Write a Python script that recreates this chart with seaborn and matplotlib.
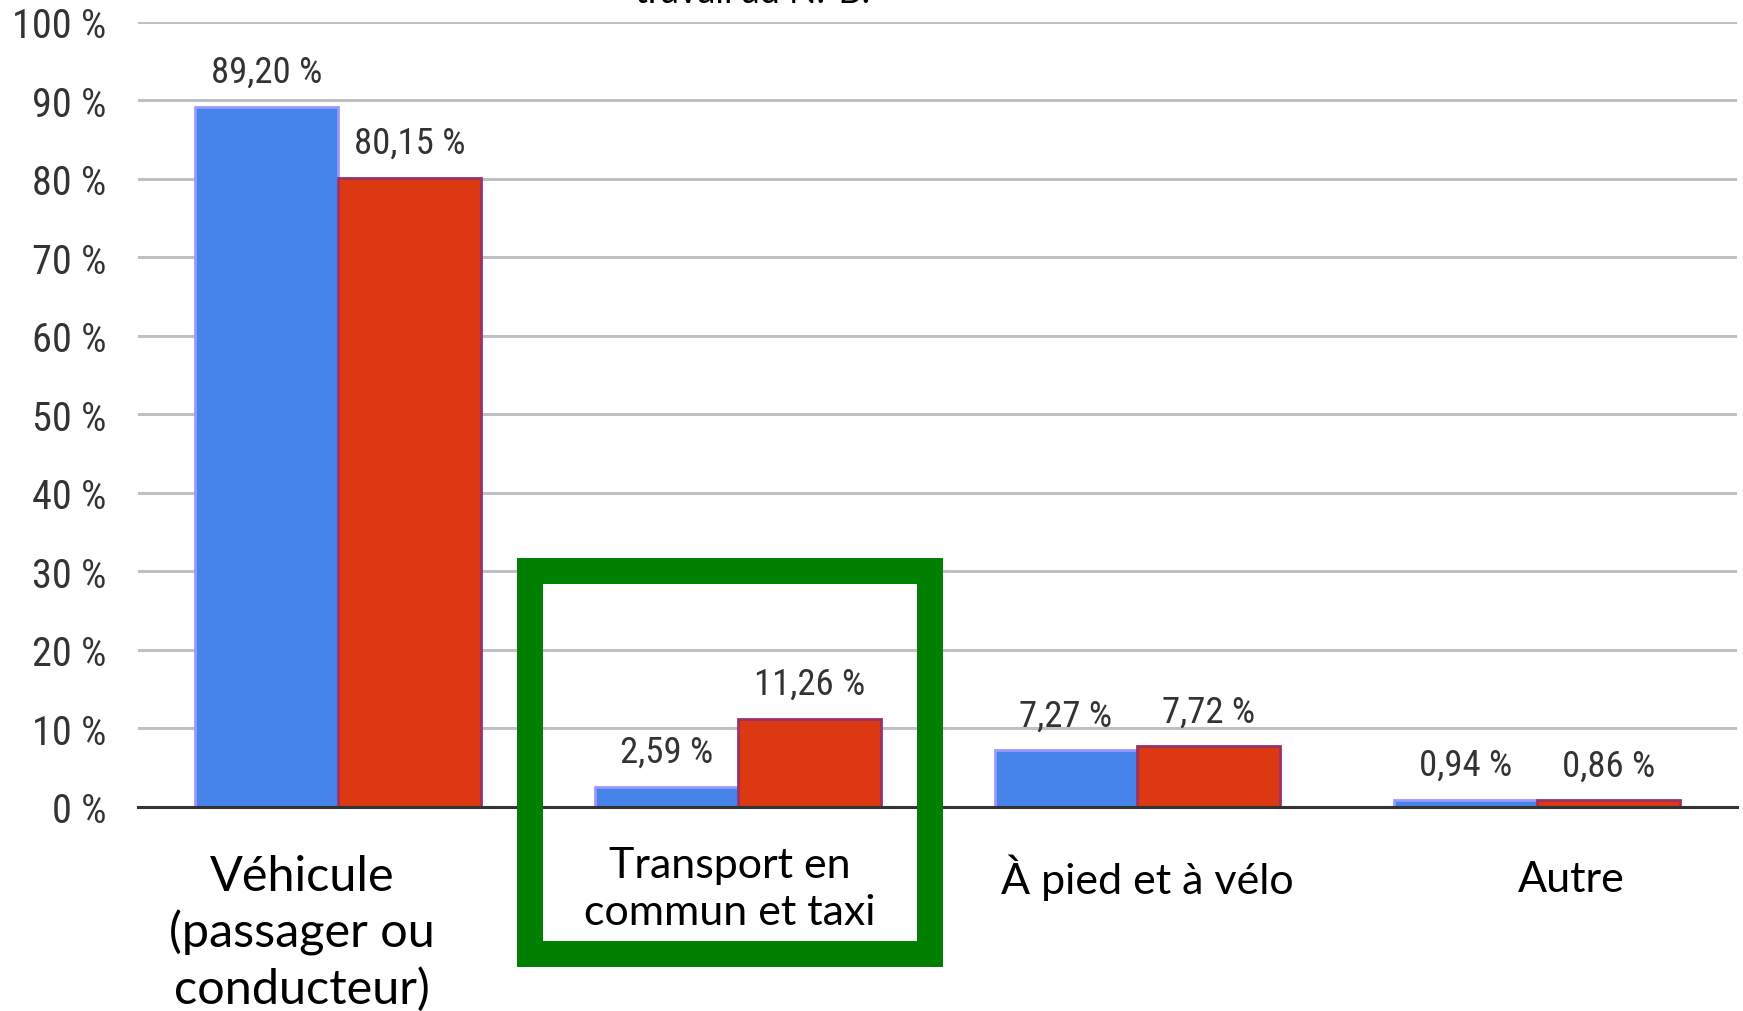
import pandas as pd
import matplotlib.pyplot as plt
import matplotlib.transforms as mtransforms
from matplotlib.patches import Rectangle
from matplotlib.ticker import FixedLocator, FuncFormatter
import seaborn as sns

# Data (percent of commuters by mode)
categories = ["Véhicule\n(passager ou\nconducteur)", "Transport en\ncommun et taxi",
              "À pied et à vélo", "Autre"]
series = ["Série 1", "Série 2"]
values_1 = [89.20, 2.59, 7.27, 0.94]
values_2 = [80.15, 11.26, 7.72, 0.86]

colors = ["#4684EA", "#DC3912"]
edges = ["#9999FF", "#993366"]

df = pd.DataFrame({
    "mode": categories * 2,
    "serie": [series[0]] * 4 + [series[1]] * 4,
    "pct": values_1 + values_2,
})

sns.set_style("white")
num_font = ["Roboto Condensed", "DejaVu Sans"]
txt_font = ["Lato", "DejaVu Sans"]

fig = plt.figure(figsize=(17.43, 10.12), dpi=100)
ax = fig.add_axes([0.0792, 0.2016, 0.9174, 0.7757])

sns.barplot(data=df, x="mode", y="pct", hue="serie", order=categories,
            hue_order=series, palette=colors, saturation=1, width=0.715,
            dodge=True, legend=False, ax=ax)

for cont, ec in zip(ax.containers, edges):
    for bar in cont:
        bar.set_edgecolor(ec)
        bar.set_linewidth(2)
    ax.bar_label(cont, labels=[f"{b.get_height():.2f}".replace(".", ",") + " %" for b in cont],
                 padding=12, fontsize=26.5, color="#333333", family=num_font)

ax.set_ylim(0, 100)
ax.set_xlim(-0.5, len(categories) - 0.5)
ax.yaxis.set_major_locator(FixedLocator(range(0, 101, 10)))
ax.yaxis.set_major_formatter(FuncFormatter(lambda v, p: f"{int(v)} %"))
ax.yaxis.grid(True, color="#c0c0c0", linewidth=2.2)
ax.set_axisbelow(True)
ax.tick_params(axis="y", length=0, pad=23, labelsize=29, labelcolor="#333333")
for lab in ax.get_yticklabels():
    lab.set_family(num_font)

ax.xaxis.set_major_locator(FixedLocator([i - 0.5 for i in range(len(categories) + 1)]))
ax.set_xticklabels([])
ax.tick_params(axis="x", length=8, width=2.2, color="#333333", direction="out")
ax.set_xlabel("")
ax.set_ylabel("")
for side in ["top", "right", "left"]:
    ax.spines[side].set_visible(False)
ax.spines["bottom"].set_color("#333333")
ax.spines["bottom"].set_linewidth(2.2)

# category labels (slightly off-centre as in the original)
trans = mtransforms.blended_transform_factory(ax.transData, ax.transAxes)
label_dx = [-0.09, -0.02, 0.025, 0.085]
label_y = [-0.160, -0.104, -0.089, -0.092]
label_size = [35, 31, 31, 31]
for i, name in enumerate(categories):
    ax.text(i + label_dx[i], label_y[i], name, transform=trans, ha="center",
            va="center", fontsize=label_size[i], family=txt_font,
            linespacing=1.3, color="black")

# highlight box around public transit
fig.patches.append(Rectangle((530 / 1743, 1 - 955 / 1012), 400 / 1743, 383.5 / 1012,
                             transform=fig.transFigure, fill=False,
                             edgecolor="#007F00", linewidth=18.7, zorder=10))

# title cut off at the top of the image
fig.text(0.432, 0.997, "travail au N.-B.", ha="center", va="baseline",
         fontsize=26, family=txt_font, color="black")

plt.savefig("out.png", dpi=100)
